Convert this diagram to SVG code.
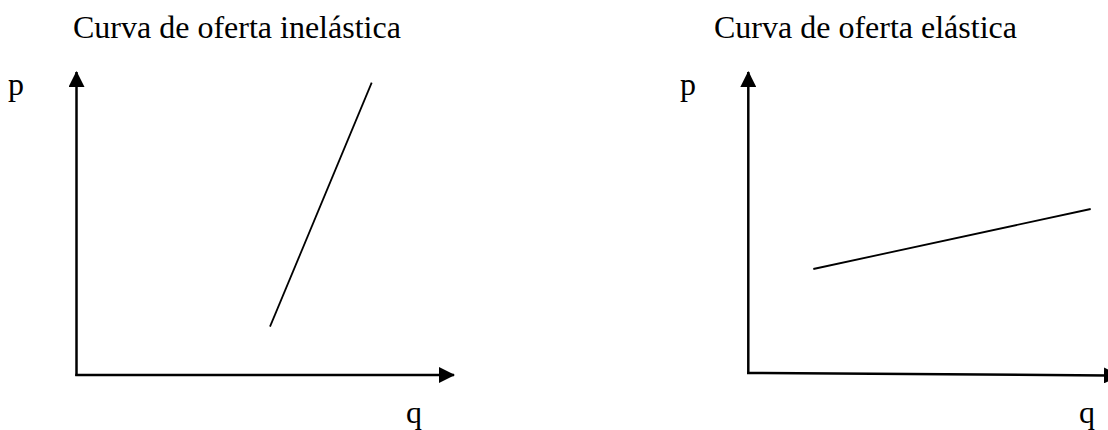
<svg xmlns="http://www.w3.org/2000/svg" width="1108" height="430" viewBox="0 0 1108 430">
<style>
text{font-family:"Liberation Serif","Times New Roman",serif;font-size:32px;fill:#000}
.axis{stroke:#000;stroke-width:2.5;fill:none}
.curve{stroke:#000;stroke-width:1.8;fill:none}
</style>
<defs>
<marker id="arr" viewBox="0 0 16 16" refX="15" refY="8" markerWidth="16" markerHeight="16" markerUnits="userSpaceOnUse" orient="auto">
<path d="M0,0 L16,8 L0,16 Z" fill="#000"/>
</marker>
</defs>
<g id="left-title"><text x="73" y="38">Curva de oferta inelástica</text></g>
<g id="left-p"><text x="8" y="95">p</text></g>
<g id="left-q"><text x="406" y="423">q</text></g>
<g id="right-title"><text x="714" y="38">Curva de oferta elástica</text></g>
<g id="right-p"><text x="680" y="95">p</text></g>
<g id="right-q"><text x="1079" y="423">q</text></g>
<g id="connectors">
<line class="axis" x1="75.3" y1="375" x2="454" y2="375" marker-end="url(#arr)"/>
<line class="axis" x1="76.5" y1="376" x2="76.5" y2="72" marker-end="url(#arr)"/>
<line class="curve" x1="371.7" y1="82.7" x2="270" y2="326.7"/>
<line class="axis" x1="748.3" y1="374" x2="748.3" y2="72" marker-end="url(#arr)"/>
<line class="axis" x1="747" y1="373" x2="1119" y2="375.5" marker-end="url(#arr)"/>
<line class="curve" x1="813.3" y1="269" x2="1090.7" y2="209"/>
</g>
</svg>
